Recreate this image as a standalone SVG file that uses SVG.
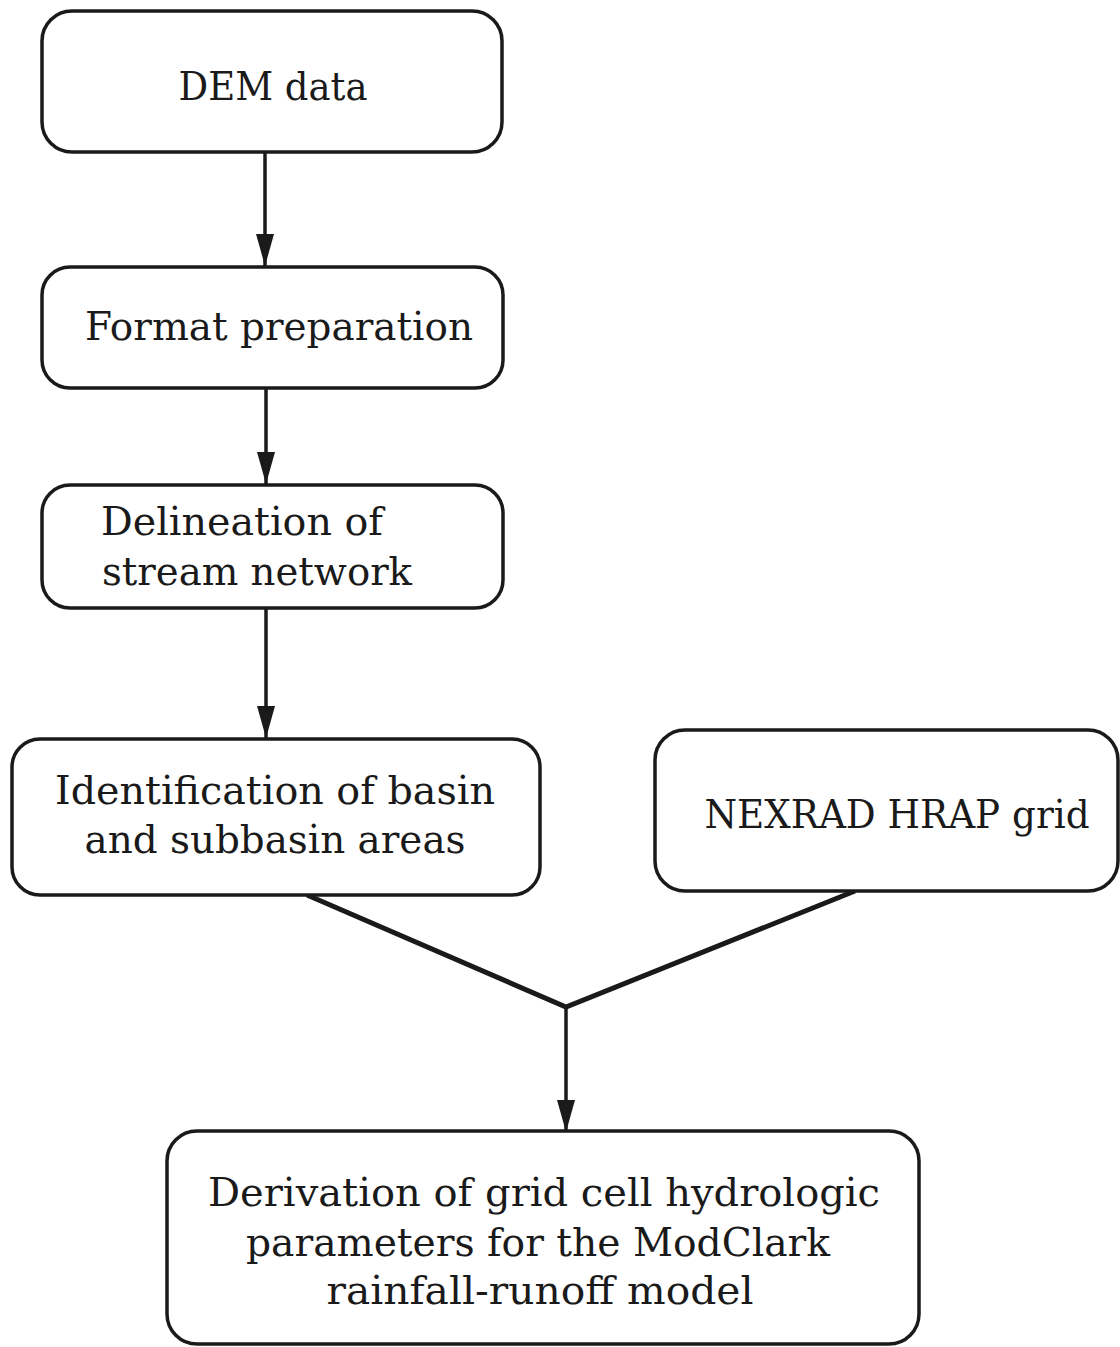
<svg xmlns="http://www.w3.org/2000/svg" width="1120" height="1347" viewBox="0 0 1120 1347">
<style>
.box{fill:#fff;stroke:#1a1a1a;stroke-width:3.5}
.t{font-family:"DejaVu Serif","Liberation Serif",serif;font-size:40px;fill:#1a1a1a}
.c{fill:none;stroke:#1a1a1a;stroke-width:3.5}
.v{fill:none;stroke:#1a1a1a;stroke-width:5}
</style>
<defs>
<marker id="arr" viewBox="0 0 32 18" refX="32" refY="9" markerWidth="32" markerHeight="18" markerUnits="userSpaceOnUse" orient="auto">
<path d="M0,0 L32,9 L0,18 Z" fill="#1a1a1a"/>
</marker>
</defs>
<rect width="1120" height="1347" fill="#fff"/>
<g id="connectors">
<line class="c" x1="265" y1="152" x2="265" y2="266" marker-end="url(#arr)"/>
<line class="c" x1="266" y1="388" x2="266" y2="484" marker-end="url(#arr)"/>
<line class="c" x1="266" y1="608" x2="266" y2="738" marker-end="url(#arr)"/>
<polyline class="v" points="307,895 566,1007 855,891"/>
<line class="c" x1="566" y1="1007" x2="566" y2="1132" marker-end="url(#arr)"/>
</g>
<g id="n1">
<rect class="box" x="42" y="11" width="460" height="141" rx="30"/>
<text class="t" x="273" y="100" text-anchor="middle" textLength="189" lengthAdjust="spacingAndGlyphs">DEM data</text>
</g>
<g id="n2">
<rect class="box" x="42" y="267" width="461" height="121" rx="28"/>
<text class="t" x="279" y="340" text-anchor="middle" textLength="388" lengthAdjust="spacingAndGlyphs">Format preparation</text>
</g>
<g id="n3">
<rect class="box" x="42" y="485" width="461" height="123" rx="28"/>
<text class="t" x="101" y="535" textLength="282" lengthAdjust="spacingAndGlyphs">Delineation of</text>
<text class="t" x="102" y="585" textLength="310" lengthAdjust="spacingAndGlyphs">stream network</text>
</g>
<g id="n4">
<rect class="box" x="12" y="739" width="528" height="156" rx="28"/>
<text class="t" x="275" y="804" text-anchor="middle" textLength="440" lengthAdjust="spacingAndGlyphs">Identification of basin</text>
<text class="t" x="275" y="853" text-anchor="middle" textLength="381" lengthAdjust="spacingAndGlyphs">and subbasin areas</text>
</g>
<g id="n5">
<rect class="box" x="655" y="730" width="463" height="161" rx="30"/>
<text class="t" x="897" y="828" text-anchor="middle" textLength="385" lengthAdjust="spacingAndGlyphs">NEXRAD HRAP grid</text>
</g>
<g id="n6">
<rect class="box" x="167" y="1131" width="752" height="213" rx="30"/>
<text class="t" x="544" y="1206" text-anchor="middle" textLength="672" lengthAdjust="spacingAndGlyphs">Derivation of grid cell hydrologic</text>
<text class="t" x="538" y="1256" text-anchor="middle" textLength="584" lengthAdjust="spacingAndGlyphs">parameters for the ModClark</text>
<text class="t" x="540" y="1304" text-anchor="middle" textLength="427" lengthAdjust="spacingAndGlyphs">rainfall-runoff model</text>
</g>
</svg>
